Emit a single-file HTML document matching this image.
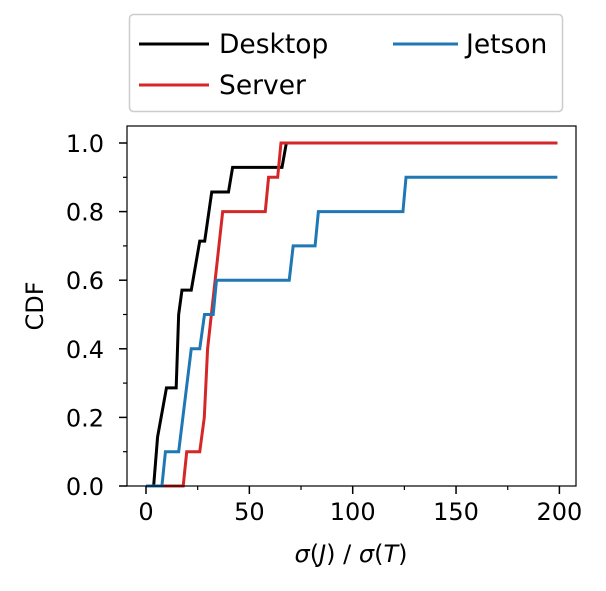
<!DOCTYPE html>
<html><head><meta charset="utf-8"><style>
body{margin:0;background:#fff;width:606px;height:591px;overflow:hidden}
svg{position:absolute;left:0;top:0}
svg text{font-family:"DejaVu Sans","Liberation Sans",sans-serif;fill:#000}
</style></head><body>
<svg id="chart" width="606" height="591" xmlns="http://www.w3.org/2000/svg">
<g id="plot"></g>
</svg>
<script>
const xTicks=[0,50,100,150,200];
const xMinor=[25,75,125,175];
const yTicks=[0,0.2,0.4,0.6,0.8,1.0];
const yTickLabels=["0.0","0.2","0.4","0.6","0.8","1.0"];
const yMinor=[0.1,0.3,0.5,0.7,0.9];
const desktopX=[3.7,5.6,9.9,14.6,15.8,17.4,21.9,26,28.4,31.8,39.9,41.9,65.8,67.9,199];
const desktopY=[0,0.143,0.286,0.286,0.5,0.571,0.571,0.714,0.714,0.857,0.857,0.929,0.929,1,1];
const serverX=[4.4,18,19.7,26,28.2,29.8,37.1,57.7,59.3,63.7,65.3,199];
const serverY=[0,0,0.1,0.1,0.2,0.4,0.8,0.8,0.9,0.9,1,1];
const jetsonX=[0,7.7,9.4,15.8,21.9,26,28.3,32.5,34.1,69.3,71.2,81.8,83.4,124.3,125.8,199];
const jetsonY=[0,0,0.1,0.1,0.4,0.4,0.5,0.5,0.6,0.6,0.7,0.7,0.8,0.8,0.9,0.9];
const L=127,R=576,T=126,B=486;
const sx=v=>146+v*2.067, sy=v=>486-v*343;
const g=document.getElementById('plot');
const NS='http://www.w3.org/2000/svg';
function mk(t,a,p){const e=document.createElementNS(NS,t);for(const k in a)e.setAttribute(k,a[k]);(p||g).appendChild(e);return e;}
function series(xs,ys,c,name){
 const p=mk('polyline',{points:xs.map((x,i)=>sx(x)+','+sy(ys[i])).join(' '),fill:'none',stroke:c,'stroke-width':3,'stroke-linejoin':'miter'});
 
 
}
series(desktopX,desktopY,'#000000','desktop-line');
series(serverX,serverY,'#d62728','server-line');
series(jetsonX,jetsonY,'#1f77b4','jetson-line');
const fr=mk('rect',{x:L,y:T,width:R-L,height:B-T,fill:'none',stroke:'#000','stroke-width':1.2});


xTicks.forEach(v=>{
 mk('line',{x1:sx(v),x2:sx(v),y1:B,y2:B+8,stroke:'#000','stroke-width':1.5});
 const t=mk('text',{x:sx(v),y:B+34,'text-anchor':'middle','font-size':24});t.textContent=v;
 
 
});
xMinor.forEach(v=>mk('line',{x1:sx(v),x2:sx(v),y1:B,y2:B+4,stroke:'#000','stroke-width':1.2}));
yTicks.forEach((v,i)=>{
 mk('line',{x1:L-8,x2:L,y1:sy(v),y2:sy(v),stroke:'#000','stroke-width':1.5});
 const t=mk('text',{x:L-23,y:sy(v)+9,'text-anchor':'end','font-size':24});t.textContent=yTickLabels[i];
 
 
});
yMinor.forEach(v=>mk('line',{x1:L-4,x2:L,y1:sy(v),y2:sy(v),stroke:'#000','stroke-width':1.2}));
</script>
<svg width="606" height="591" xmlns="http://www.w3.org/2000/svg">
<text transform="translate(43,306) rotate(-90)" text-anchor="middle" font-size="24">CDF</text>
<text x="351" y="562" text-anchor="middle" font-size="24"><tspan font-style="italic">σ</tspan>(<tspan font-style="italic">J</tspan>) / <tspan font-style="italic">σ</tspan>(<tspan font-style="italic">T</tspan>)</text>
<g>
<rect x="129.5" y="14.5" width="433" height="97" rx="4" fill="#fff" stroke="#ccc" stroke-width="1.5"/>
<line x1="139" x2="209" y1="44" y2="44" stroke="#000" stroke-width="3"/>
<text x="219" y="53" font-size="26.5">Desktop</text>
<line x1="139" x2="209" y1="85" y2="85" stroke="#d62728" stroke-width="3"/>
<text x="219" y="94" font-size="26.5">Server</text>
<line x1="393" x2="458" y1="44" y2="44" stroke="#1f77b4" stroke-width="3"/>
<text x="466" y="53" font-size="26.5">Jetson</text>
</g>
</svg>
</body></html>
